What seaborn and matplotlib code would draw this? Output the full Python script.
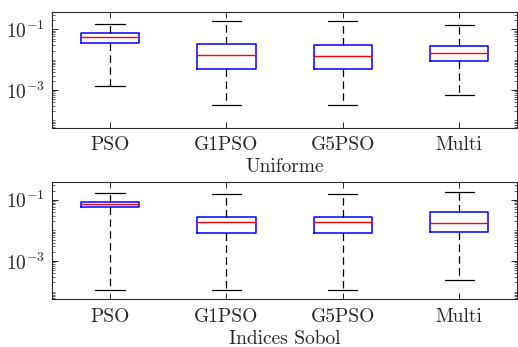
import numpy as np
import pandas as pd
import seaborn as sns
import matplotlib.pyplot as plt
from matplotlib.ticker import FixedLocator, LogLocator, NullFormatter

# categorias
metodos = ['PSO', 'G1PSO', 'G5PSO', 'Multi']

# resumo de cinco números por método: mínimo, Q1, mediana, Q3, máximo
uniforme_pso = [1.4e-3, 0.036, 0.056, 0.074, 0.153]
uniforme_g1pso = [3.2e-4, 0.0049, 0.0139, 0.032, 0.192]
uniforme_g5pso = [3.2e-4, 0.0049, 0.0132, 0.030, 0.192]
uniforme_multi = [6.8e-4, 0.0091, 0.0162, 0.028, 0.142]

sobol_pso = [1.1e-4, 0.056, 0.072, 0.084, 0.166]
sobol_g1pso = [1.1e-4, 0.0085, 0.0184, 0.028, 0.150]
sobol_g5pso = [1.1e-4, 0.0085, 0.0184, 0.0275, 0.150]
sobol_multi = [2.45e-4, 0.0088, 0.0174, 0.039, 0.174]

paineis = [
    ("Uniforme", [uniforme_pso, uniforme_g1pso, uniforme_g5pso, uniforme_multi]),
    ("Indices Sobol", [sobol_pso, sobol_g1pso, sobol_g5pso, sobol_multi]),
]

sns.set_style("ticks")
plt.rcParams['font.family'] = ['cmr10', 'DejaVu Serif']
plt.rcParams['mathtext.fontset'] = 'cm'
plt.rcParams['axes.formatter.use_mathtext'] = True
plt.rcParams['axes.unicode_minus'] = False

fig = plt.figure(figsize=(5.18, 3.47), dpi=100)
posicoes = [[0.100, 0.631, 0.899, 0.334], [0.100, 0.1375, 0.899, 0.337]]

for (titulo, series), pos in zip(paineis, posicoes):
    ax = fig.add_axes(pos)
    df = pd.DataFrame({
        'metodo': np.repeat(metodos, 5),
        'valor': np.concatenate(series),
    })
    sns.boxplot(
        data=df, x='metodo', y='valor', ax=ax, log_scale=True,
        whis=(0, 100), fill=False, width=0.5, color='blue', linewidth=1.1,
        boxprops={'color': 'blue'},
        medianprops={'color': 'red', 'linewidth': 1.0},
        whiskerprops={'color': 'black', 'linestyle': (0, (6, 3.5)), 'linewidth': 0.9},
        capprops={'color': 'black', 'linewidth': 0.9},
    )
    ax.set_xlim(-0.5, 3.5)
    ax.set_ylim(5.6e-5, 0.37)
    ax.yaxis.set_major_locator(FixedLocator([1e-3, 1e-1]))
    ax.yaxis.set_minor_locator(LogLocator(base=10, subs=np.arange(1, 10), numticks=30))
    ax.yaxis.set_minor_formatter(NullFormatter())
    ax.set_xlabel(titulo, fontsize=14, labelpad=3)
    ax.set_ylabel(None)
    ax.tick_params(which='both', direction='in', top=True, right=True,
                   labelsize=14, color='#262626')
    ax.tick_params(axis='x', pad=6)
    ax.tick_params(axis='y', pad=5)
    ax.tick_params(which='major', length=4, width=0.7)
    ax.tick_params(which='minor', length=2, width=0.5)
    for s in ax.spines.values():
        s.set_visible(True)
        s.set_color('#262626')
        s.set_linewidth(0.8)

plt.savefig('out.png', dpi=100)
